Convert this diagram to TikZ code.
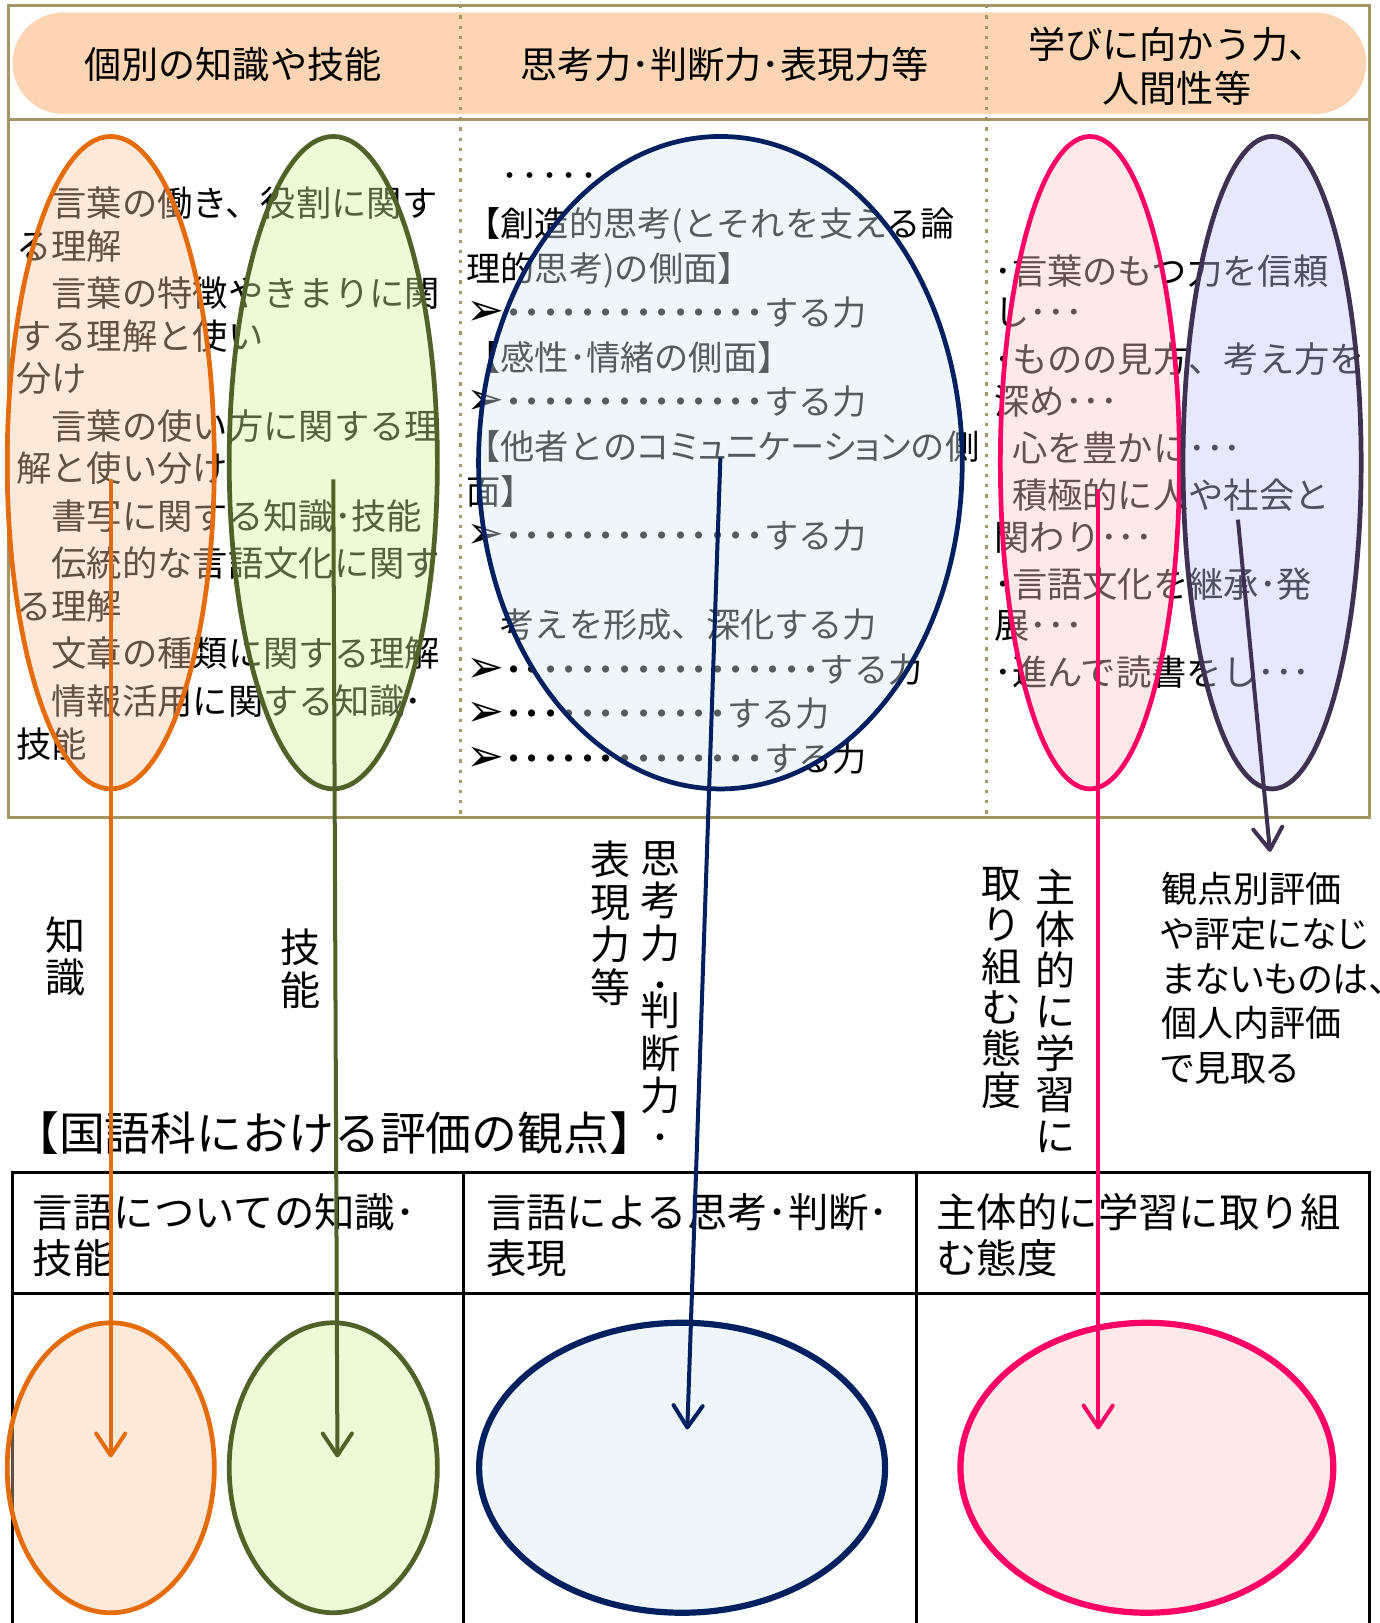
\documentclass[tikz,border=0pt]{standalone}
\usepackage{fontspec}
\setmainfont{Noto Sans CJK JP}
\newfontfamily\symfont{DejaVu Sans}
\newfontfamily\propfont{Noto Sans CJK JP}[RawFeature=+palt]
\usetikzlibrary{arrows.meta,shapes.geometric}
\definecolor{frameKhaki}{HTML}{A39664}
\definecolor{pillPeach}{HTML}{FBD4B4}
\definecolor{knowLine}{HTML}{E46C0A}
\definecolor{knowFill}{HTML}{FAC8A0}
\definecolor{skillLine}{HTML}{4F6228}
\definecolor{skillFill}{HTML}{CDF596}
\definecolor{thinkLine}{HTML}{002060}
\definecolor{thinkFill}{HTML}{D4E8F0}
\definecolor{attLine}{HTML}{FF0066}
\definecolor{attFill}{HTML}{FFC6C6}
\definecolor{evalLine}{HTML}{3F3151}
\definecolor{evalFill}{HTML}{C6C6F8}
\tikzset{
    table frame/.style={draw=frameKhaki,line width=0.85pt},
    separator/.style={frameKhaki,line width=1pt,dash pattern=on 0.9pt off 1.9pt},
    table line/.style={draw=black,line width=0.8pt},
    oval/.style={ellipse,inner sep=0pt,line width=1.3pt,draw=#1Line,fill=#1Fill,fill opacity=0.4},
    arr/.style={-{Straight Barb[length=6pt,width=8pt,round]},line width=1.1pt,#1Line},
    head text/.style={font=\fontsize{10.2}{12.2}\selectfont,align=center,inner sep=0pt},
    body text/.style={align=left,anchor=north west,inner sep=0pt},
    vert text/.style={font=\fontsize{11}{11.67}\selectfont,align=center,anchor=north,inner sep=0pt},
}
\newcommand\thindot{\makebox[5.4pt]{･}}
\newcommand\dotcell{\makebox[5.1pt]{\bfseries ･}}
\newcommand\dotrow[1]{\foreach \i in {1,...,#1}{\dotcell}}
\newcommand\arrowmark{\makebox[10.4pt][l]{\fontsize{12.5}{12.5}\symfont ➢}}

\begin{document}
\begin{tikzpicture}[x=0.01cm,y=-0.01cm]
    \useasboundingbox (0,0) rectangle (1333,1568);

    % upper table
    \fill[pillPeach,rounded corners=0.49cm] (12,12) rectangle (1320,110);
    \draw[table frame] (8,5) rectangle (1323,790);
    \draw[table frame] (8,115) -- (1323,115);
    \foreach \x in {445,953}
        \draw[separator] (\x,5) -- (\x,790);

    \node[head text] (headKnow) at (225,62) {個別の知識や技能};
    \node[head text] (headThink) at (700,62) {思考力･判断力･表現力等};
    \node[head text] (headHuman) at (1137,64) {学びに向かう力、\\人間性等};

    \node[body text,font=\fontsize{9.7}{11.67}\selectfont] (knowText) at (15,180) {%
        　言葉の働き、役割に関す\\る理解\\[1.4pt]%
        　言葉の特徴やきまりに関\\する理解と使い\\分け\\[1.4pt]%
        　言葉の使い方に関する理\\解と使い分け\\[1.4pt]%
        　書写に関する知識･技能\\[1.4pt]%
        　伝統的な言語文化に関す\\る理解\\[1.4pt]%
        　文章の種類に関する理解\\[1.4pt]%
        　情報活用に関する知識･\\技能};
    \node[body text,font=\fontsize{9.4}{12.23}\selectfont] (thinkText) at (450,155) {%
        \vphantom{国}　\thindot\thindot\thindot\thindot\thindot\\[1.1pt]%
        【創造的思考(とそれを支える論\\%
        理的思考)の側面】\\%
        \arrowmark\dotrow{14}する力\\%
        【感性･情緒の側面】\\%
        \arrowmark\dotrow{14}する力\\%
        【他者との{\propfont コミュニケーション}の側\\%
        面】\\%
        \arrowmark\dotrow{14}する力\\[12.3pt]%
        　考えを形成、深化する力\\%
        \arrowmark\dotrow{17}する力\\%
        \arrowmark\dotrow{12}する力\\%
        \arrowmark\dotrow{14}する力};
    \node[body text,font=\fontsize{9.7}{11.38}\selectfont] (humanText) at (960,245) {%
        ･言葉のもつ力を信頼\\し･･･\\[1.6pt]%
        ･ものの見方、考え方を\\深め･･･\\[1.6pt]%
        \phantom{･}心を豊かに･･･\\[1.6pt]%
        \phantom{･}積極的に人や社会と\\関わり･･･\\[1.6pt]%
        ･言語文化を継承･発\\展･･･\\[1.6pt]%
        ･進んで読書をし･･･};

    \node[oval=know,minimum width=2cm,minimum height=6.3cm] (knowOval) at (107,447) {};
    \node[oval=skill,minimum width=2.01cm,minimum height=6.3cm] (skillOval) at (322,447) {};
    \node[oval=think,minimum width=4.67cm,minimum height=6.3cm] (thinkOval) at (696,447) {};
    \node[oval=att,minimum width=1.73cm,minimum height=6.3cm] (attOval) at (1053,447) {};
    \node[oval=eval,minimum width=1.72cm,minimum height=6.3cm] (evalOval) at (1229,447) {};

    % labels between the tables
    \node[vert text] (knowV) at (63,885) {知\\識};
    \node[vert text] (skillV) at (290,897) {技\\能};
    \node[vert text] (exprV) at (590,812) {表\\現\\力\\等};
    \node[vert text] (thinkV) at (638,812) {思\\考\\力\\･\\[-4.8pt]判\\断\\力\\･};
    \node[vert text,font=\fontsize{11}{11.38}\selectfont] (attV) at (968,837) {取\\り\\組\\む\\態\\度};
    \node[vert text,font=\fontsize{11}{11.38}\selectfont] (subjV) at (1020,839) {主\\体\\的\\に\\学\\習\\に};
    \node[body text,font=\fontsize{9.9}{12.3}\propfont] (evalNote) at (1121,842) {観点別評価\\や評定になじ\\まないものは、\\個人内評価\\で見取る};
    \node[body text,font=\fontsize{12.6}{14}\selectfont] (evalTitle) at (12,1073) {【国語科における評価の観点】};

    % lower table
    \draw[table line] (12,1568) -- (12,1133) -- (1323,1133) -- (1323,1568);
    \draw[table line] (12,1250) -- (1323,1250);
    \foreach \x in {448,885}
        \draw[table line] (\x,1133) -- (\x,1568);
    \node[body text,font=\fontsize{11.1}{12.8}\selectfont] (colKnow) at (31,1152) {言語についての知識･\\技能};
    \node[body text,font=\fontsize{11.1}{12.8}\selectfont] (colThink) at (469,1152) {言語による思考･判断･\\表現};
    \node[body text,font=\fontsize{11.1}{12.8}\selectfont] (colAtt) at (904,1152) {主体的に学習に取り組\\む態度};

    \node[oval=know,minimum width=2cm,minimum height=2.8cm] (knowGoal) at (107,1418) {};
    \node[oval=skill,minimum width=2.01cm,minimum height=2.8cm] (skillGoal) at (322,1418) {};
    \node[oval=think,line width=1.7pt,minimum width=3.92cm,minimum height=2.8cm] (thinkGoal) at (659,1418) {};
    \node[oval=att,line width=1.7pt,minimum width=3.6cm,minimum height=2.8cm] (attGoal) at (1108,1418) {};

    % arrows
    \coordinate (knowFrom) at (107,463);
    \coordinate (knowTo) at (107,1408);
    \coordinate (skillFrom) at (322,463);
    \coordinate (skillTo) at (326,1408);
    \coordinate (thinkFrom) at (696,442);
    \coordinate (thinkTo) at (664,1381);
    \coordinate (attFrom) at (1061,472);
    \coordinate (attTo) at (1061,1381);
    \coordinate (evalFrom) at (1196,502);
    \coordinate (evalTo) at (1227,823);
    \draw[arr=know] (knowFrom) -- (knowTo);
    \draw[arr=skill] (skillFrom) -- (skillTo);
    \draw[arr=think] (thinkFrom) -- (thinkTo);
    \draw[arr=att] (attFrom) -- (attTo);
    \draw[arr=eval] (evalFrom) -- (evalTo);
\end{tikzpicture}
\end{document}
